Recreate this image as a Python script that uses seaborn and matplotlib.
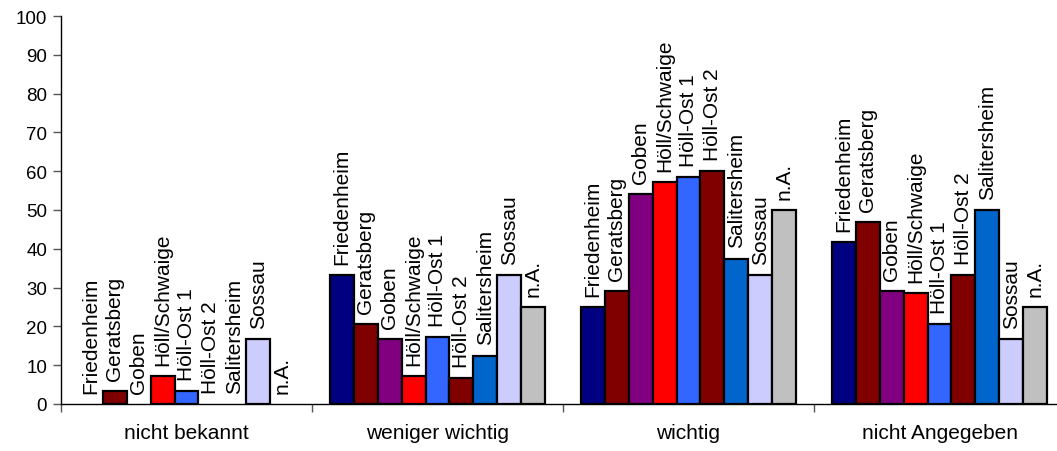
import matplotlib
matplotlib.use("Agg")
import matplotlib.pyplot as plt
import pandas as pd
import seaborn as sns

categories = ["nicht bekannt", "weniger wichtig", "wichtig", "nicht Angegeben"]
stations = ["Friedenheim", "Geratsberg", "Goben", "Höll/Schwaige", "Höll-Ost 1",
            "Höll-Ost 2", "Salitersheim", "Sossau", "n.A."]
colors = ["#000080", "#800000", "#800080", "#FF0000", "#3366FF",
          "#800000", "#0066CC", "#CCCCFF", "#C0C0C0"]

# percent per station, one list per category
nicht_bekannt = [0, 3.3, 0, 7.1, 3.4, 0, 0, 16.7, 0]
weniger_wichtig = [33.3, 20.5, 16.7, 7.1, 17.2, 6.7, 12.5, 33.3, 25.0]
wichtig = [25.0, 29.2, 54.2, 57.1, 58.6, 60.0, 37.5, 33.3, 50.0]
nicht_angegeben = [41.7, 47.0, 29.2, 28.6, 20.7, 33.3, 50.0, 16.7, 25.0]

values = [nicht_bekannt, weniger_wichtig, wichtig, nicht_angegeben]
rows = []
for cat, vals in zip(categories, values):
    for st, v in zip(stations, vals):
        rows.append({"Kategorie": cat, "Station": st, "Prozent": v})
df = pd.DataFrame(rows)

sns.set_theme(style="white")
plt.rcParams["font.family"] = ["Liberation Sans", "DejaVu Sans"]
plt.rcParams["text.color"] = "black"
plt.rcParams["xtick.color"] = "black"
plt.rcParams["ytick.color"] = "black"

fig = plt.figure(figsize=(10.57, 4.52), dpi=100)
ax = fig.add_axes([61 / 1057, 47 / 452, 1004 / 1057, 388 / 452])

sns.barplot(data=df, x="Kategorie", y="Prozent", hue="Station",
            order=categories, hue_order=stations,
            palette=dict(zip(stations, colors)), saturation=1,
            width=0.86, edgecolor="black", linewidth=1.6, legend=False, ax=ax)

# no outline for empty bars
for p in ax.patches:
    if p.get_height() == 0:
        p.set_linewidth(0)

for cont, st in zip(ax.containers, stations):
    ax.bar_label(cont, labels=[st] * len(categories), rotation=90,
                 padding=8, fontsize=15, color="black")

ax.set_xlim(-0.5, 3.5)
ax.set_ylim(0, 100)
ax.set_yticks(range(0, 101, 10))
ax.set_xlabel("")
ax.set_ylabel("")
ax.set_xticks([-0.5, 0.5, 1.5, 2.5, 3.5], minor=True)
ax.tick_params(axis="x", which="major", length=0, labelsize=15, pad=14, labelcolor="black")
ax.tick_params(axis="x", which="minor", bottom=True, length=6, width=1,
               color="#555555", direction="out")
ax.tick_params(axis="y", length=6, width=1, color="#555555", labelsize=13.5,
               pad=4, left=True, labelcolor="black")

for side in ["top", "right"]:
    ax.spines[side].set_visible(False)
for side in ["left", "bottom"]:
    ax.spines[side].set_color("black")
    ax.spines[side].set_linewidth(1)

fig.savefig("out.png", dpi=100)
